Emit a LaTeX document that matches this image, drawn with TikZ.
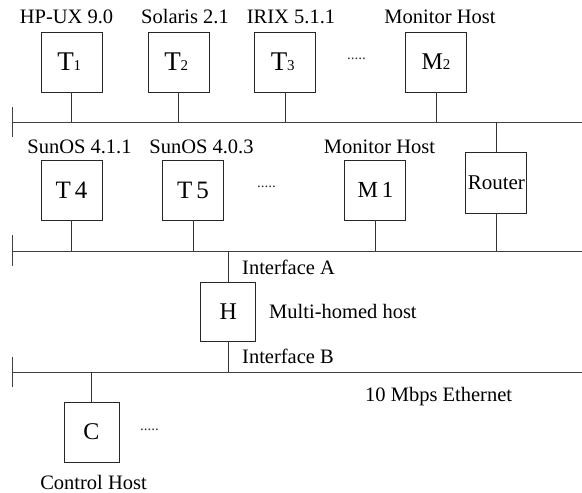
\documentclass[tikz,border=0pt]{standalone}
\usepackage{fontspec}
\setmainfont{Liberation Serif}
\begin{document}
\begin{tikzpicture}[x=1pt,y=-1pt,
  host/.style={draw=black!85,line width=0.9pt,inner sep=0pt,minimum width=61pt,minimum height=60pt},
  smallhost/.style={host,minimum width=55pt,minimum height=59pt},
  lbl/.style={inner sep=0pt,font=\fontsize{20.5}{22}\selectfont},
  dots/.style={inner sep=0pt,font=\fontsize{15}{16}\selectfont,text=black!80},
  bus/.style={draw=black!75,line width=1pt},
  stem/.style={draw=black!80,line width=0.9pt}]
\useasboundingbox (0,0) rectangle (582,493);
\newcommand{\sub}[1]{{\fontsize{15}{15}\selectfont #1}}

% segment ends and terminator ticks
\coordinate (b1l) at (12,122);  \coordinate (b1r) at (582,122);
\coordinate (b2l) at (12,251);  \coordinate (b2r) at (582,251);
\coordinate (b3l) at (12,372);  \coordinate (b3r) at (582,372);
\coordinate (k1a) at (12,107);  \coordinate (k1b) at (12,137);
\coordinate (k2a) at (12,235);  \coordinate (k2b) at (12,266);
\coordinate (k3a) at (12,357);  \coordinate (k3b) at (12,387);
\draw[bus] (b1l) -- (b1r);
\draw[bus] (b2l) -- (b2r);
\draw[bus] (b3l) -- (b3r);
\draw[bus] (k1a) -- (k1b);
\draw[bus] (k2a) -- (k2b);
\draw[bus] (k3a) -- (k3b);

% upper segment hosts
\node[host,font=\fontsize{27}{28}\selectfont] (t1) at (71.5,62) {T\sub{1}\,};
\node[host,font=\fontsize{27}{28}\selectfont] (t2) at (178.5,62) {T\sub{2}\,};
\node[host,font=\fontsize{27}{28}\selectfont] (t3) at (285,62) {T\sub{3}\,};
\node[host,font=\fontsize{24}{26}\selectfont] (m2) at (436,62) {M\sub{2}};
\node[dots] (d1) at (356.5,59) {.....};

\node[lbl,anchor=base] (l1) at (66.5,23.5) {HP-UX 9.0};
\node[lbl,anchor=base] (l2) at (185,23.5) {Solaris 2.1};
\node[lbl,anchor=base] (l3) at (291,23.5) {IRIX 5.1.1};
\node[lbl,anchor=base] (l4) at (440,23.5) {Monitor Host};

% middle segment hosts
\node[host,font=\fontsize{25}{26}\selectfont] (t4) at (71.5,190) {T\,4};
\node[host,font=\fontsize{25}{26}\selectfont] (t5) at (193,190) {T\,5};
\node[host,font=\fontsize{23}{24}\selectfont] (m1) at (375.4,190) {M\,1};
\node[host,minimum height=61pt,font=\fontsize{21}{22}\selectfont] (router) at (496.4,182.5) {Router};
\node[dots] (d2) at (266.5,187) {.....};

\node[lbl,anchor=base] (l5) at (79.5,153) {SunOS 4.1.1};
\node[lbl,anchor=base] (l6) at (201.5,153) {SunOS 4.0.3};
\node[lbl,anchor=base] (l7) at (379.5,153) {Monitor Host};

% multi-homed host between the lower segments
\node[smallhost,font=\fontsize{24}{26}\selectfont] (h) at (228.2,311.5) {H};
\node[lbl,anchor=base west] (ia) at (242,274) {Interface A};
\node[lbl,anchor=base west] (mh) at (269,318) {Multi-homed host};
\node[lbl,anchor=base west] (ib) at (242,363) {Interface B};
\node[lbl,anchor=base west] (eth) at (365,401.5) {10 Mbps Ethernet};

% control host
\node[smallhost,minimum height=60pt,font=\fontsize{24}{26}\selectfont] (c) at (91.5,432) {C};
\node[dots] (d3) at (149.5,430) {.....};
\node[lbl,anchor=base] (lc) at (93.5,489) {Control Host};

% drops to the segments
\draw[stem] (t1.south) -- (t1.south |- b1l);
\draw[stem] (t2.south) -- (t2.south |- b1l);
\draw[stem] (t3.south) -- (t3.south |- b1l);
\draw[stem] (m2.south) -- (m2.south |- b1l);
\draw[stem] (router.north) -- (router.north |- b1l);
\draw[stem] (router.south) -- (router.south |- b2l);
\draw[stem] (t4.south) -- (t4.south |- b2l);
\draw[stem] (t5.south) -- (t5.south |- b2l);
\draw[stem] (m1.south) -- (m1.south |- b2l);
\draw[stem] (h.north) -- (h.north |- b2l);
\draw[stem] (h.south) -- (h.south |- b3l);
\draw[stem] (c.north) -- (c.north |- b3l);
\end{tikzpicture}
\end{document}
